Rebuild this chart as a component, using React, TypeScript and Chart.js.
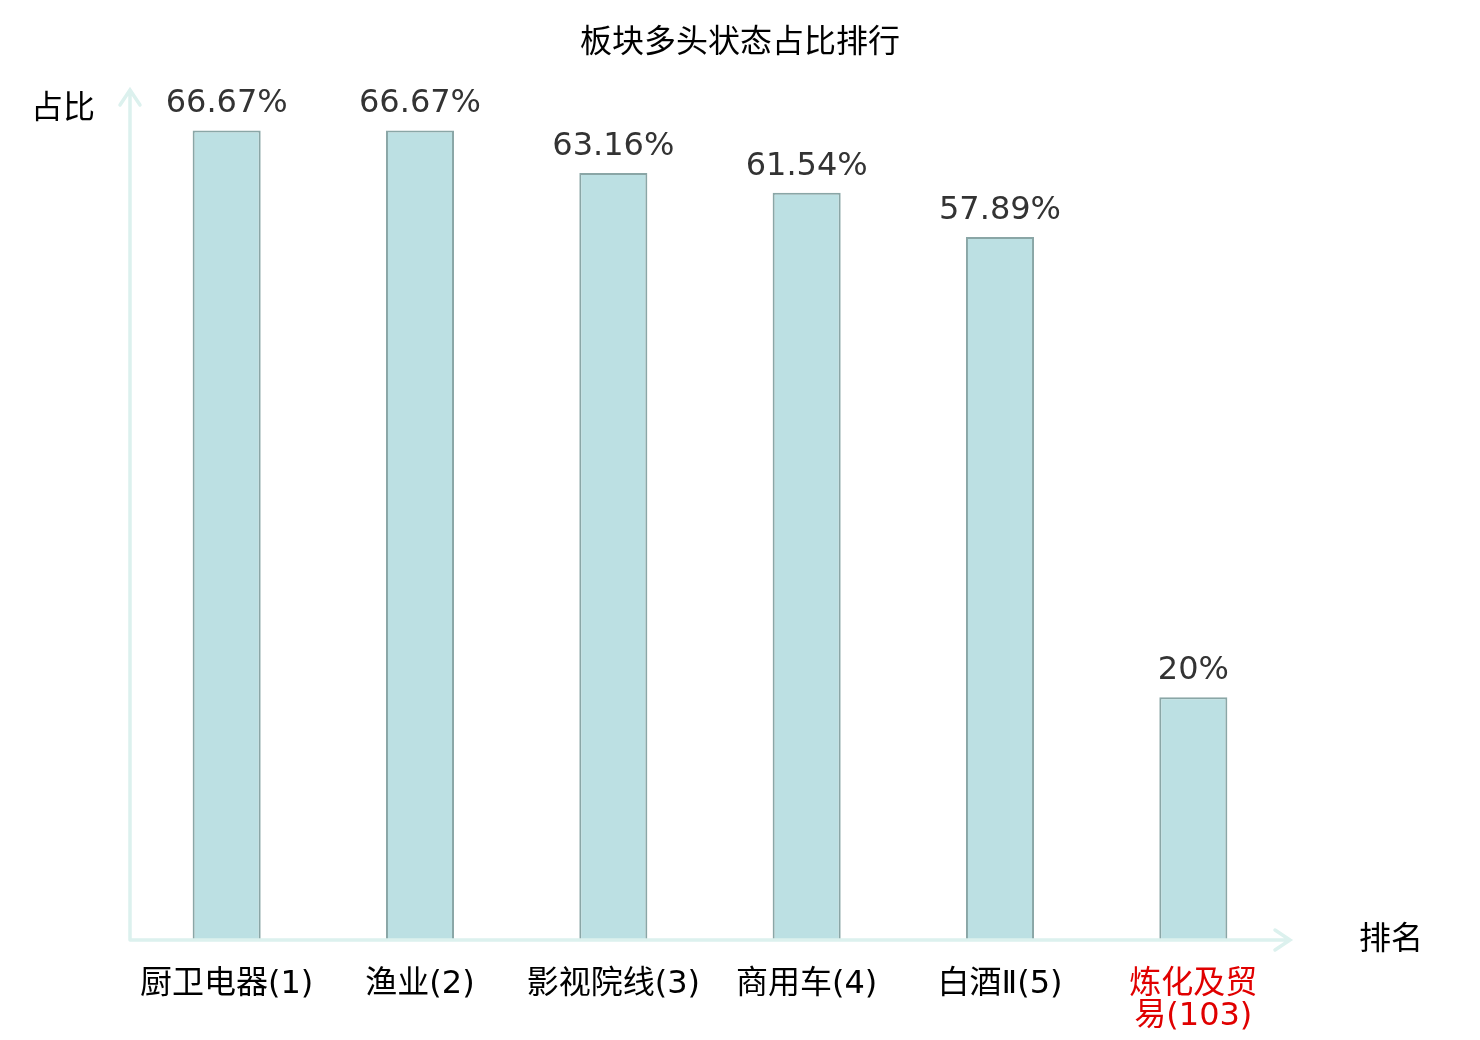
import { useEffect, useRef } from 'react';
import { Chart, registerables } from 'chart.js';
import type { Plugin } from 'chart.js';

Chart.register(...registerables);

const categories: (string | string[])[] = [
  '厨卫电器(1)',
  '渔业(2)',
  '影视院线(3)',
  '商用车(4)',
  '白酒Ⅱ(5)',
  ['炼化及贸', '易(103)'],
];
const shares = [66.67, 66.67, 63.16, 61.54, 57.89, 20];
const tickColors = ['#000000', '#000000', '#000000', '#000000', '#000000', '#e00000'];

const FONT = '"DejaVu Sans", "Noto Sans CJK SC", sans-serif';
const AXIS_COLOR = '#dcf1ee';

// title, value labels above bars, arrowed axes + axis names
const decorations: Plugin<'bar'> = {
  id: 'decorations',
  afterDatasetsDraw(chart) {
    const { ctx, chartArea } = chart;
    const meta = chart.getDatasetMeta(0);
    ctx.save();
    ctx.font = `32px ${FONT}`;
    ctx.textAlign = 'center';

    ctx.fillStyle = '#000000';
    ctx.textBaseline = 'middle';
    ctx.fillText('板块多头状态占比排行', 740, 44);

    ctx.fillStyle = '#333333';
    ctx.textBaseline = 'alphabetic';
    meta.data.forEach((bar, i) => {
      ctx.fillText(`${shares[i]}%`, bar.x, bar.y - 18);
    });

    const left = chartArea.left;
    const bottom = chartArea.bottom;
    ctx.strokeStyle = AXIS_COLOR;
    ctx.lineWidth = 3.5;
    ctx.lineCap = 'round';
    ctx.beginPath();
    ctx.moveTo(left, bottom);
    ctx.lineTo(left, chartArea.top);
    ctx.moveTo(left - 10, chartArea.top + 15);
    ctx.lineTo(left, chartArea.top);
    ctx.lineTo(left + 10, chartArea.top + 15);
    ctx.moveTo(left, bottom);
    ctx.lineTo(chartArea.right, bottom);
    ctx.moveTo(chartArea.right - 15, bottom - 10);
    ctx.lineTo(chartArea.right, bottom);
    ctx.lineTo(chartArea.right - 15, bottom + 10);
    ctx.stroke();

    ctx.fillStyle = '#000000';
    ctx.textBaseline = 'middle';
    ctx.fillText('占比', 63, 110);
    ctx.fillText('排名', 1391, 941);
    ctx.restore();
  },
};

export default function App() {
  const canvasRef = useRef<HTMLCanvasElement>(null);

  useEffect(() => {
    if (!canvasRef.current) return;
    const chart = new Chart(canvasRef.current, {
      type: 'bar',
      data: {
        labels: categories,
        datasets: [{
          data: shares,
          backgroundColor: '#bce0e3',
          borderColor: '#8aa6a6',
          borderWidth: 2,
          barPercentage: 0.352,
          categoryPercentage: 1,
        }],
      },
      options: {
        responsive: false,
        animation: false,
        layout: { padding: { left: 130, right: 190, top: 90, bottom: 0 } },
        plugins: {
          legend: { display: false },
          tooltip: { enabled: false },
          title: { display: false },
        },
        scales: {
          x: {
            grid: { display: false },
            border: { display: false },
            ticks: {
              color: tickColors,
              font: { family: FONT, size: 32, lineHeight: 1.0 },
              padding: 21,
              maxRotation: 0,
              autoSkip: false,
            },
            afterFit: (scale) => { scale.height = 100; },
          },
          y: {
            display: false,
            min: 0,
            max: 70,
          },
        },
      },
      plugins: [decorations],
    });
    return () => chart.destroy();
  }, []);

  return (
    <div style={{ position: 'absolute', left: 0, top: 0, width: 1480, height: 1040, background: '#ffffff' }}>
      <canvas ref={canvasRef} width={1480} height={1040} />
    </div>
  );
}
